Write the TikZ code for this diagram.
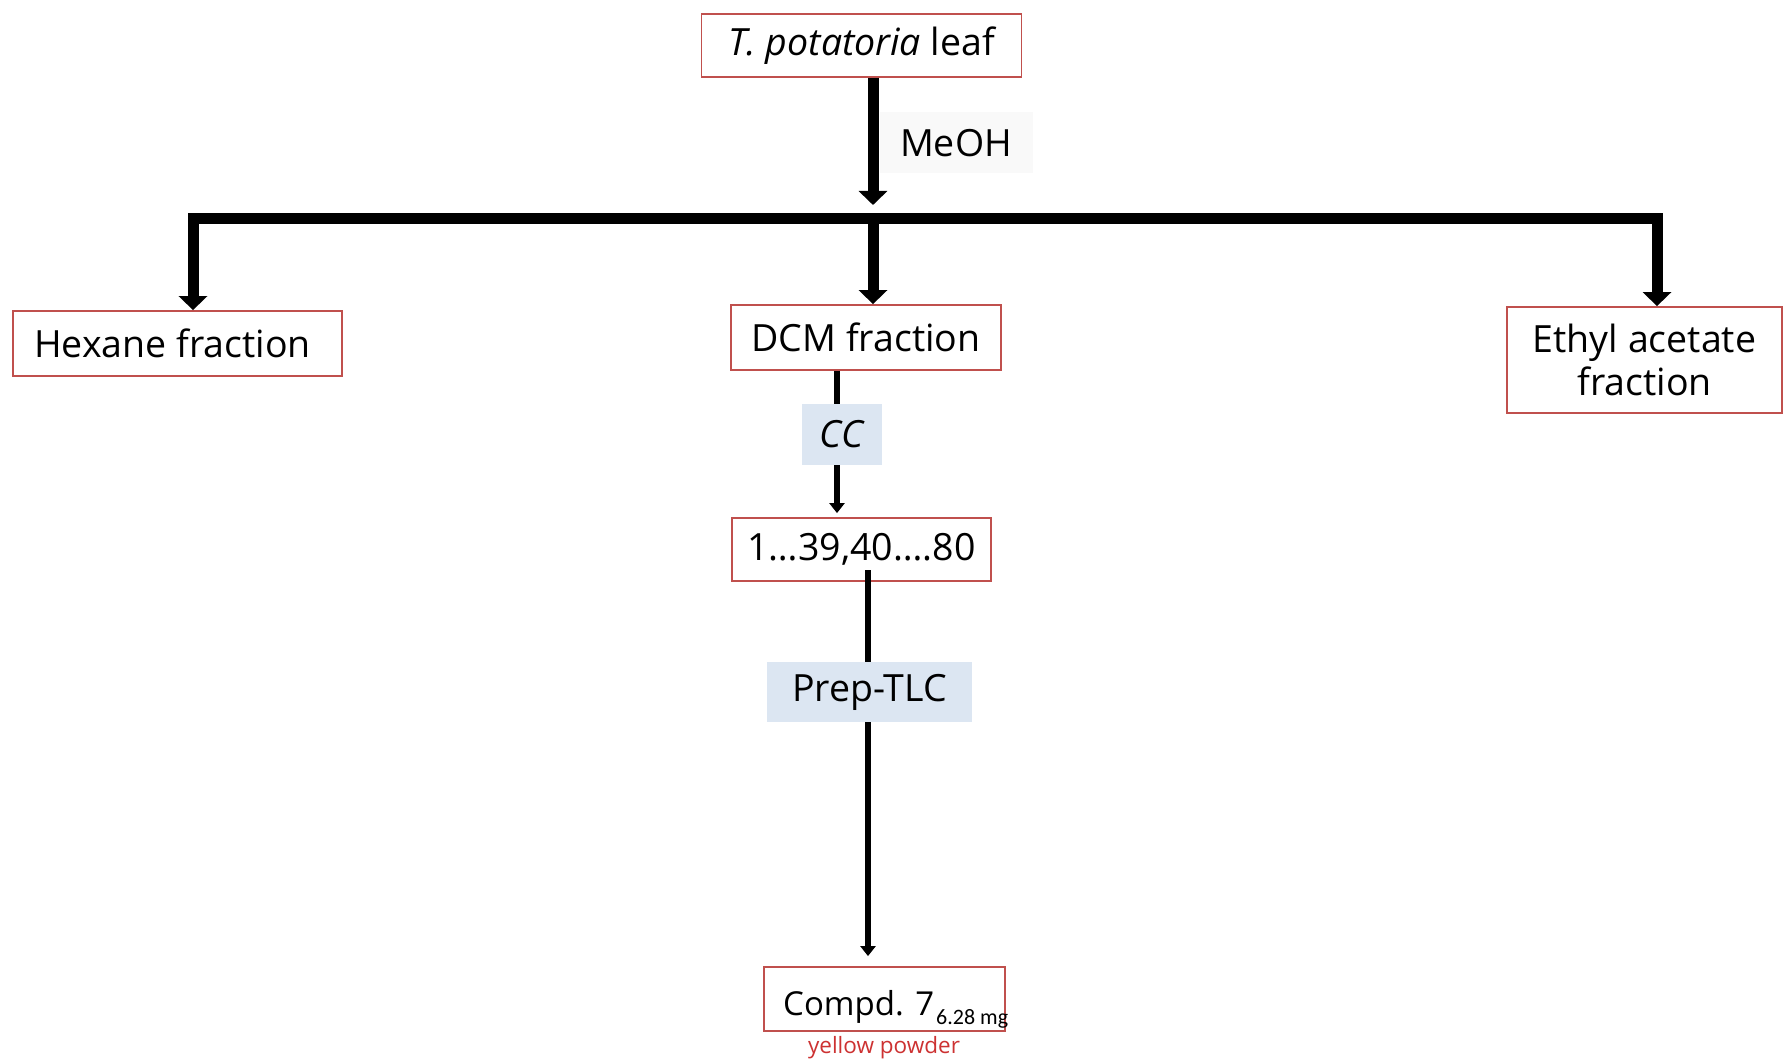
\documentclass[tikz,border=0pt]{standalone}
\usepackage{fontspec}
\setmainfont{Open Sans}
\newfontfamily\smallfont{Carlito}
\usetikzlibrary{arrows.meta}
\definecolor{boxred}{RGB}{192,80,77}
\definecolor{lblue}{RGB}{220,230,242}
\definecolor{offwhite}{RGB}{249,249,249}
\definecolor{ptred}{RGB}{205,50,50}
\begin{document}
\begin{tikzpicture}[x=1pt,y=-1pt,
  txt/.style={font=\fontsize{37.5}{43}\selectfont},
  box/.style={txt, draw=boxred, line width=1.8pt, fill=white, inner sep=0pt},
  tag/.style={txt, fill=lblue, inner sep=0pt},
  bigarrow/.style={line width=11pt, -{Triangle[width=28pt,length=14pt]}},
  twoarrow/.style={line width=11pt, {Triangle[width=28pt,length=14pt]}-{Triangle[width=28pt,length=14pt]}, line join=miter},
  thinline/.style={line width=6.5pt},
  thinarrow/.style={line width=6.5pt, -{Triangle[width=15pt,length=10pt]}}]
\useasboundingbox (0,0) rectangle (1783,1064);
\fill[white] (0,0) rectangle (1783,1064);

% nodes
\node[box, minimum width=320pt, minimum height=63pt] (top) at (861.5,45.5) {\textit{T. potatoria} leaf};
\node[txt, fill=offwhite, inner sep=0pt, minimum width=153pt, minimum height=61pt] (meoh) at (956,143) {MeOH};
\node[box, minimum width=329pt, minimum height=65pt] (hex) at (177.5,343.5) {\hspace*{-10pt}Hexane fraction};
\node[box, minimum width=270pt, minimum height=65pt] (dcm) at (866,337.5) {DCM fraction};
\node[box, align=center, minimum width=275pt, minimum height=106pt] (eth) at (1644.5,360) {Ethyl acetate\\fraction};
\node[tag, minimum width=80pt, minimum height=61pt] (cc) at (842,434.5) {\textit{CC}};
\node[box, minimum width=259pt, minimum height=63pt] (frac) at (861.5,549.5) {1…39,40….80};
\node[tag, minimum width=205pt, minimum height=60pt] (tlc) at (869.5,692) {Prep-TLC};
\node[box, minimum width=241pt, minimum height=64pt] (cmp) at (884.5,999) {};
\node[anchor=base west, inner sep=0pt, font=\fontsize{33}{40}\selectfont] (cmptext) at (783,1015) {Compd. 7};
\node[anchor=base west, inner sep=0pt, font=\smallfont\fontsize{22}{26}\selectfont] (mg) at (936,1024) {6.28 mg};
\node[inner sep=0pt, text=ptred, font=\fontsize{22.5}{26}\selectfont] (yp) at (884,1048) {yellow powder};

% connectors
\coordinate (j) at (873,205);
\coordinate (bl) at (193,219);
\coordinate (bc) at (873,219);
\coordinate (br) at (1657,219);
\draw[bigarrow] (top.south -| j) -- (j);
\draw[twoarrow] (hex.north -| bl) -- (bl) -- (br) -- (eth.north -| br);
\draw[bigarrow] (bc) -- (dcm.north -| bc);

\coordinate (c1) at (837,400);
\draw[thinline] (dcm.south -| c1) -- (cc.north -| c1);
\draw[thinarrow] (cc.south -| c1) -- ([yshift=4pt]frac.north -| c1);
\coordinate (c2) at (868,570);
\draw[thinline] (c2) -- (tlc.north -| c2);
\draw[thinarrow, shorten >=10pt] (tlc.south -| c2) -- (cmp.north -| c2);
\end{tikzpicture}
\end{document}
